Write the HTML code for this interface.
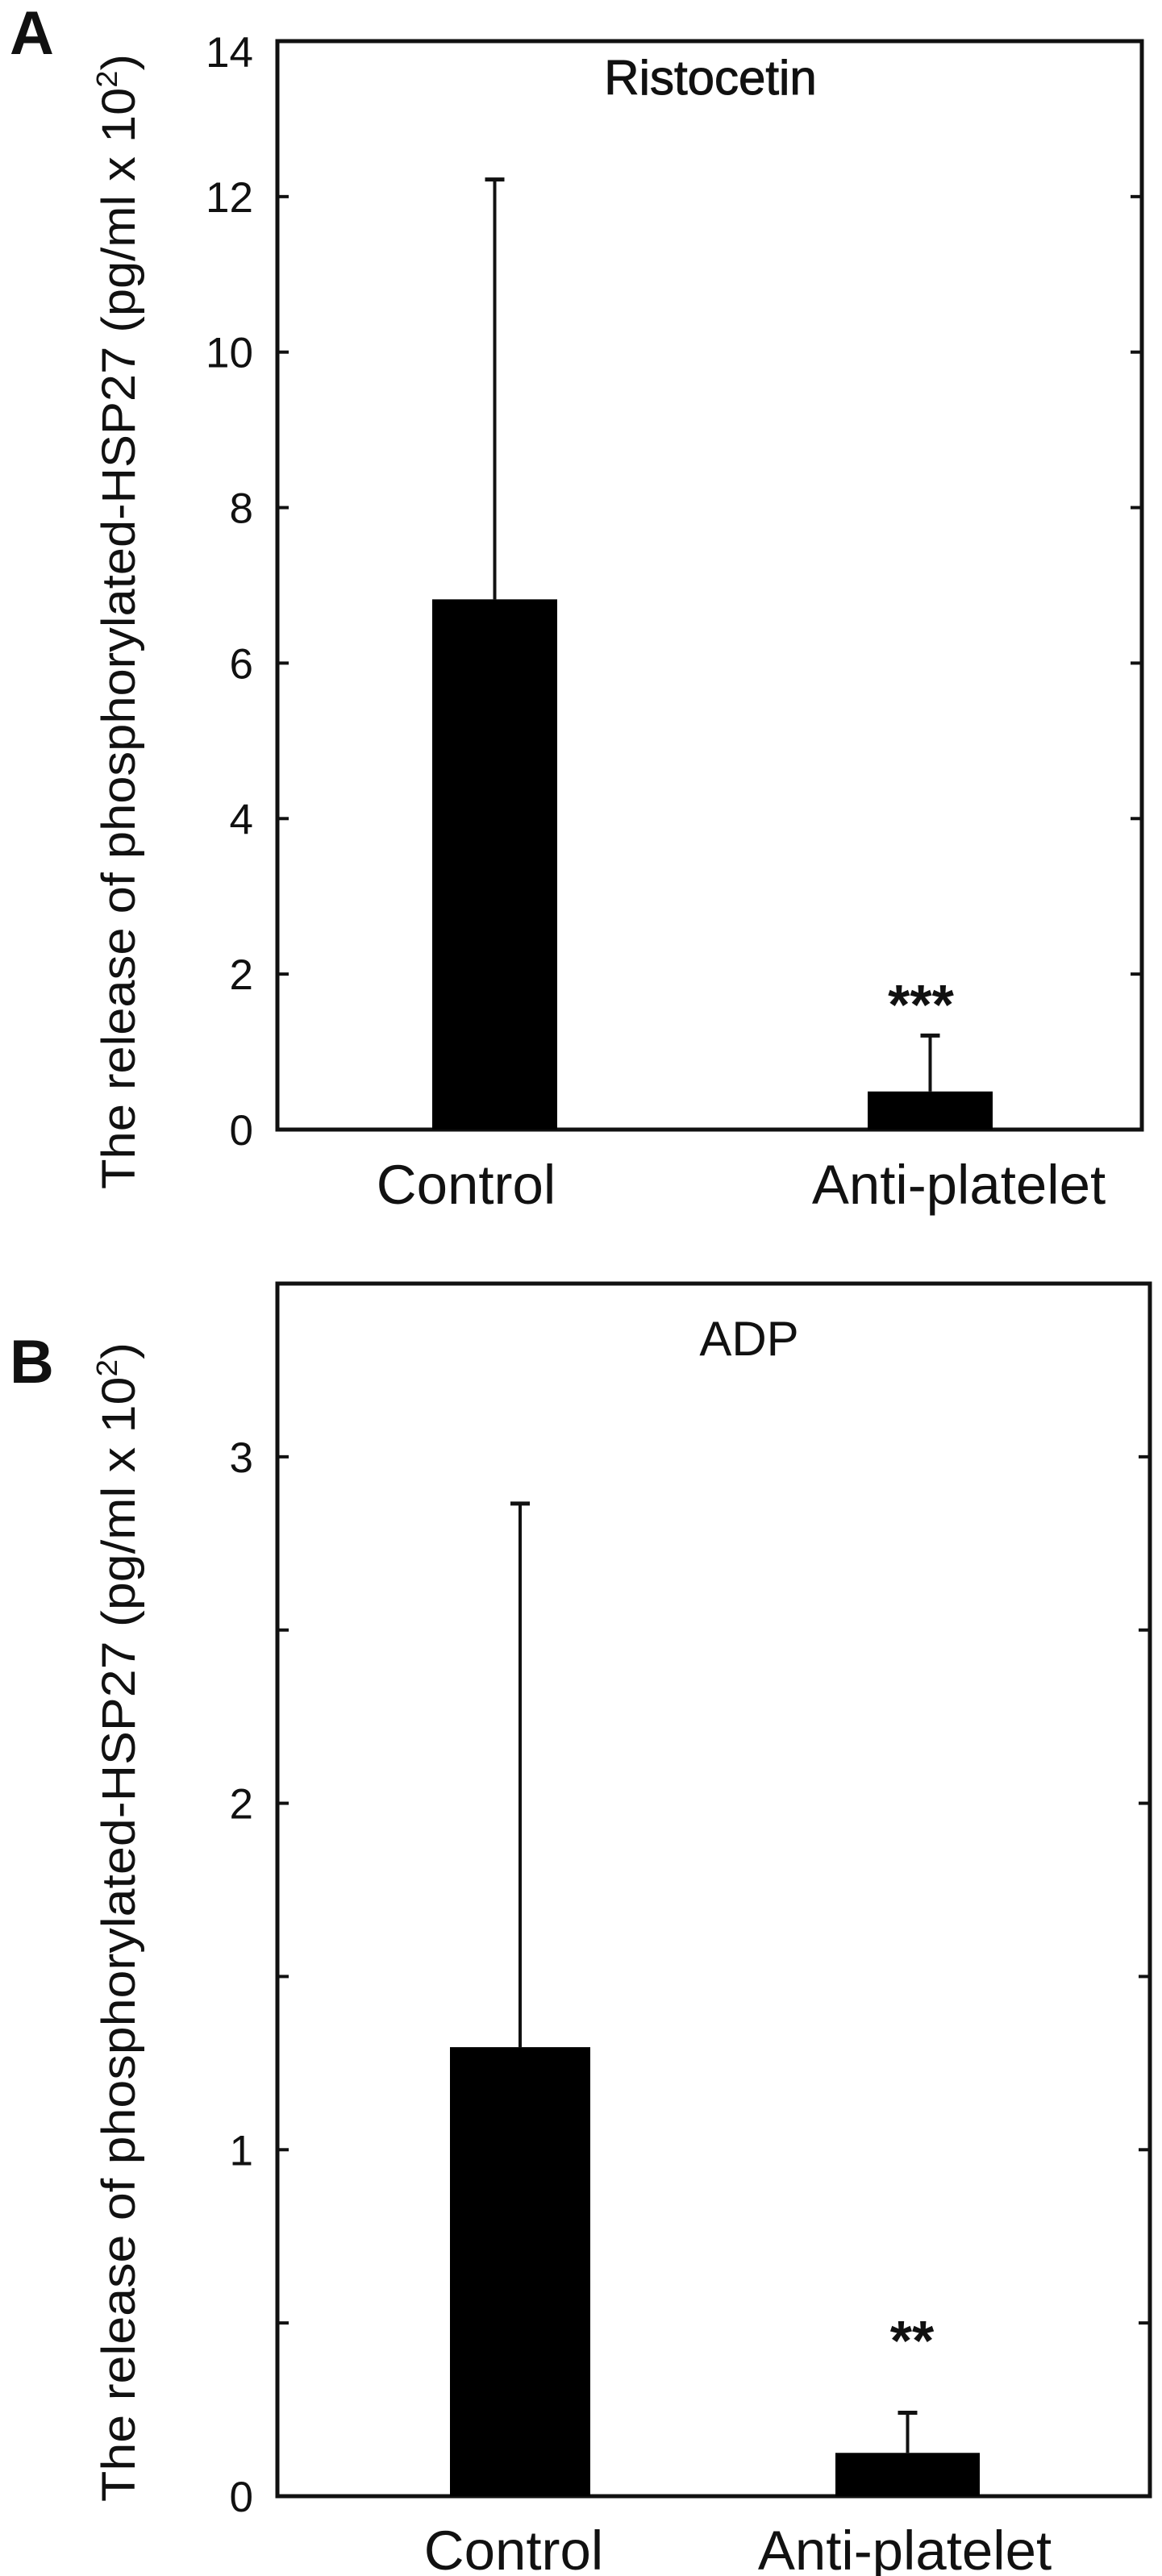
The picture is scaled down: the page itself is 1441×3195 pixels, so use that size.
<!DOCTYPE html>
<html><head><meta charset="utf-8"><style>
html,body{margin:0;padding:0;background:#fff;}
svg{display:block;font-family:"Liberation Sans",Arial,sans-serif;}
</style></head><body>
<svg id="fig" width="1441" height="3195" viewBox="0 0 1441 3195" xmlns="http://www.w3.org/2000/svg">
<rect width="1441" height="3195" fill="#fff"/>
</svg>
<script>
// Panel A data
const catsA = ["Control", "Anti-platelet"];
const valsA = [6.82, 0.49];
const errA = [12.22, 1.21];
const ticksA = [0, 2, 4, 6, 8, 10, 12, 14];
const tickLabelsA = ["0", "2", "4", "6", "8", "10", "12", "14"];
const sigA = ["", "***"];
// Panel B data
const catsB = ["Control", "Anti-platelet"];
const valsB = [1.296, 0.125];
const errB = [2.865, 0.241];
const ticksB = [0, 0.5, 1, 1.5, 2, 2.5, 3, 3.5];
const tickLabelsB = ["0", "", "1", "", "2", "", "3", ""];
const sigB = ["", "**"];

const NS = "http://www.w3.org/2000/svg";
const svg = document.getElementById('fig');
function mk(tag, attrs, parent) {
  const e = document.createElementNS(NS, tag);
  for (const k in attrs) e.setAttribute(k, attrs[k]);
  (parent || svg).appendChild(e);
  return e;
}

function panel(cfg) {
  const g = mk('g', {});
  
  
  const y = v => cfg.bottom - (v / cfg.ymax) * (cfg.bottom - cfg.top);
  // frame
  const fr = mk('rect', {x: cfg.left, y: cfg.top, width: cfg.right - cfg.left, height: cfg.bottom - cfg.top, fill: 'none', stroke: '#111', 'stroke-width': 5}, g);
  
  
  // ticks
  cfg.ticks.forEach((t, i) => {
    const ty = y(t);
    const tl = mk('line', {x1: cfg.left, x2: cfg.left + 14, y1: ty, y2: ty, stroke: '#111', 'stroke-width': 4}, g);
    
    
    const tr = mk('line', {x1: cfg.right - 14, x2: cfg.right, y1: ty, y2: ty, stroke: '#111', 'stroke-width': 4}, g);
    
    
    if (cfg.tickLabels[i] !== "") {
      let ly = ty + 19;
      if (ty - cfg.top < 20) ly = ty + 32;
      const lab = mk('text', {x: 314, y: ly, 'text-anchor': 'end', 'font-size': 53, fill: '#111'}, g);
      lab.textContent = cfg.tickLabels[i];
      
      
    }
  });
  // bars
  cfg.vals.forEach((v, i) => {
    const b = cfg.bars[i];
    const cx = (b[0] + b[1]) / 2;
    const er = mk('line', {x1: cx, x2: cx, y1: y(v), y2: y(cfg.err[i]), stroke: '#111', 'stroke-width': 4}, g);
    
    
    const cap = mk('line', {x1: cx - 12, x2: cx + 12, y1: y(cfg.err[i]), y2: y(cfg.err[i]), stroke: '#111', 'stroke-width': 5}, g);
    
    
    const r = mk('rect', {x: b[0], y: y(v), width: b[1] - b[0], height: cfg.bottom - y(v), fill: '#000'}, g);
    
    
    const cl = mk('text', {x: cfg.catX[i], y: cfg.catY, 'text-anchor': 'middle', 'font-size': 69, fill: '#111'}, g);
    cl.textContent = cfg.cats[i];
    
    
    if (cfg.sig[i]) {
      const s = mk('text', {x: cfg.sigX, y: cfg.sigY, 'text-anchor': 'middle', 'font-size': 70, 'font-weight': 'bold', fill: '#111'}, g);
      s.textContent = cfg.sig[i];
      
      
    }
  });
  // title
  const tt = mk('text', {x: cfg.titleX, y: cfg.titleY, 'text-anchor': 'middle', 'font-size': 60, fill: '#111', stroke: cfg.titleStroke ? '#111' : 'none', 'stroke-width': cfg.titleStroke ? 1 : 0}, g);
  tt.textContent = cfg.title;
  
  
  // y axis title
  const yt = mk('text', {x: 0, y: 0, 'text-anchor': 'middle', 'font-size': 58, fill: '#111', textLength: cfg.ytLen, lengthAdjust: 'spacingAndGlyphs', transform: 'translate(167,' + cfg.ytCenter + ') rotate(-90)'}, g);
  yt.appendChild(document.createTextNode('The release of phosphorylated-HSP27 (pg/ml x 10'));
  const sup = mk('tspan', {'font-size': 36, dy: -22}, yt);
  sup.textContent = '2';
  const cp = mk('tspan', {dy: 22}, yt);
  cp.textContent = ')';
  
  
  // panel letter
  const pl = mk('text', {x: 12, y: cfg.letterY, 'font-size': 76, 'font-weight': 'bold', fill: '#111'}, g);
  pl.textContent = cfg.letter;
  
  
}

panel({name: 'panel-a-ristocetin', left: 344, right: 1416, top: 51, bottom: 1401, ymax: 14,
  ticks: ticksA, tickLabels: tickLabelsA, vals: valsA, err: errA, cats: catsA, sig: sigA,
  bars: [[536, 691], [1076, 1231]], catX: [578, 1189], catY: 1493, sigX: 1142, sigY: 1270,
  title: 'Ristocetin', titleX: 881, titleY: 117, titleStroke: true,
  ytCenter: 771, ytLen: 1408, letter: 'A', letterY: 67});
panel({name: 'panel-b-adp', left: 344, right: 1426, top: 1592, bottom: 3096, ymax: 3.5,
  ticks: ticksB, tickLabels: tickLabelsB, vals: valsB, err: errB, cats: catsB, sig: sigB,
  bars: [[558, 732], [1036, 1215]], catX: [637, 1122], catY: 3187, sigX: 1131, sigY: 2927,
  title: 'ADP', titleX: 929, titleY: 1681, titleStroke: false,
  ytCenter: 2384, ytLen: 1438, letter: 'B', letterY: 1715});
</script>
</body></html>
